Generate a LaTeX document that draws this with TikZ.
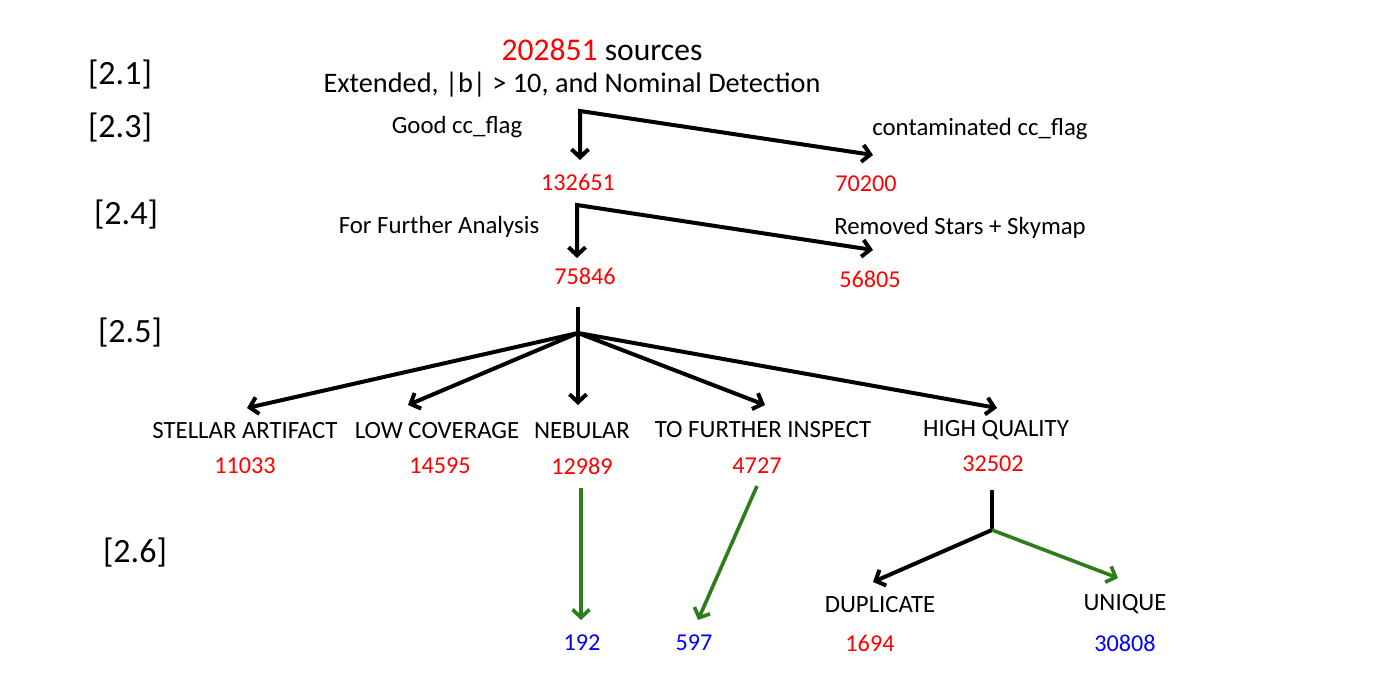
\documentclass[tikz,border=0pt]{standalone}
\usepackage{fontspec}
\setmainfont{Carlito}
\usetikzlibrary{arrows.meta}
\definecolor{myred}{RGB}{255,0,0}
\definecolor{myblue}{RGB}{0,0,255}
\definecolor{mygreen}{RGB}{45,125,25}
\begin{document}
\begin{tikzpicture}[x=1pt,y=-1pt,
  lbl/.style={font=\fontsize{34}{36}\selectfont, inner sep=0pt},
  txt/.style={font=\fontsize{24.8}{27}\selectfont, inner sep=0pt},
  num/.style={font=\fontsize{24.2}{26}\selectfont, text=myred, inner sep=0pt},
  bnum/.style={num, text=myblue},
  tip/.style={-{Straight Barb[length=8pt,width=17pt]}},
  ln/.style={line width=4pt, line join=miter},
  arr/.style={ln, tip},
  arr2/.style={ln, {Straight Barb[length=8pt,width=17pt]}-{Straight Barb[length=8pt,width=17pt]}},
  garr/.style={arr, draw=mygreen, line width=3.6pt}
]
\useasboundingbox (0,0) rectangle (1395,700);
% section labels
\node[lbl] (s21) at (120,75) {[2.1]};
\node[lbl] (s23) at (120,128) {[2.3]};
\node[lbl] (s24) at (126,215) {[2.4]};
\node[lbl] (s25) at (130,333) {[2.5]};
\node[lbl] (s26) at (135,553) {[2.6]};
% top
\node[font=\fontsize{31.6}{34}\selectfont, inner sep=0pt] (src) at (602,50) {\textcolor{myred}{202851} sources};
\node[font=\fontsize{28.3}{30}\selectfont, inner sep=0pt] (ext) at (572,85) {Extended, |b| > 10, and Nominal Detection};
% 2.3
\node[txt] (good) at (457,127) {Good cc\_flag};
\node[txt] (cont) at (980,129) {contaminated cc\_flag};
\coordinate (c1) at (580,111);
\coordinate (t1a) at (580,160);
\coordinate (t1b) at (873,155);
\draw[arr2] (t1a) -- (c1) -- (t1b);
\node[num] (n1) at (578,182) {132651};
\node[num] (n2) at (866,184) {70200};
% 2.4
\node[txt] (ffa) at (439,227) {For Further Analysis};
\node[txt] (rem) at (960,228) {Removed Stars + Skymap};
\coordinate (c2) at (577,205);
\coordinate (t2a) at (577,258);
\coordinate (t2b) at (873,250);
\draw[arr2] (t2a) -- (c2) -- (t2b);
\node[num] (n3) at (585,276) {75846};
\node[num] (n4) at (870,279) {56805};
% 2.5 fan
\coordinate (stem) at (578,307);
\coordinate (hub) at (578,333);
\coordinate (f1) at (247,408);
\coordinate (f2) at (408,405);
\coordinate (f3) at (578,405);
\coordinate (f4) at (765,405);
\coordinate (f5) at (997,408);
\draw[ln] (stem) -- (hub);
\foreach \f in {f1,f2,f3,f4,f5} \draw[arr] (hub) -- (\f);
\node[txt] (stel) at (245,431) {STELLAR ARTIFACT};
\node[txt] (low) at (437,431) {LOW COVERAGE};
\node[txt] (neb) at (582,431) {NEBULAR};
\node[txt] (tfi) at (763,430) {TO FURTHER INSPECT};
\node[txt] (hq) at (996,430) {HIGH QUALITY};
\node[num] (n5) at (245,466) {11033};
\node[num] (n6) at (440,466) {14595};
\node[num] (n7) at (582,466) {12989};
\node[num] (n8) at (757,466) {4727};
\node[num] (n9) at (993,464) {32502};
% 2.6
\coordinate (g1s) at (581,488);
\coordinate (g1t) at (581,620);
\coordinate (g2s) at (757,486);
\coordinate (g2t) at (698,620);
\draw[garr] (g1s) -- (g1t);
\draw[garr] (g2s) -- (g2t);
\coordinate (hqs) at (992,490);
\coordinate (hqh) at (992,530);
\coordinate (dupt) at (873,582);
\coordinate (unit) at (1118,578);
\draw[ln] (hqs) -- (hqh);
\draw[arr] (hqh) -- (dupt);
\draw[garr] (hqh) -- (unit);
\node[txt] (dup) at (880,605) {DUPLICATE};
\node[txt] (uni) at (1125,604) {UNIQUE};
\node[bnum] (n10) at (582,643) {192};
\node[bnum] (n11) at (694,643) {597};
\node[num] (n12) at (870,643) {1694};
\node[bnum] (n13) at (1125,643) {30808};
\end{tikzpicture}
\end{document}
